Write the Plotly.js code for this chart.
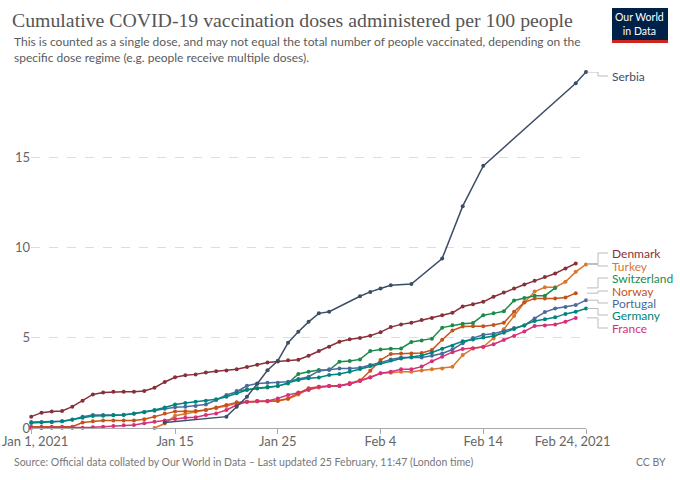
<!DOCTYPE html>
<html>
<head>
<meta charset="utf-8">
<script src="https://cdn.plot.ly/plotly-2.35.2.min.js"></script>
<style>html,body{margin:0;padding:0;background:#fff;}#chart{width:680px;height:480px;}</style>
</head>
<body>
<div id="chart"></div>
<script>
// ---- Data ----
const dates = ['2021-01-01','2021-01-02','2021-01-03','2021-01-04','2021-01-05','2021-01-06','2021-01-07','2021-01-08','2021-01-09','2021-01-10',
'2021-01-11','2021-01-12','2021-01-13','2021-01-14','2021-01-15','2021-01-16','2021-01-17','2021-01-18','2021-01-19','2021-01-20',
'2021-01-21','2021-01-22','2021-01-23','2021-01-24','2021-01-25','2021-01-26','2021-01-27','2021-01-28','2021-01-29','2021-01-30',
'2021-01-31','2021-02-01','2021-02-02','2021-02-03','2021-02-04','2021-02-05','2021-02-06','2021-02-07','2021-02-08','2021-02-09',
'2021-02-10','2021-02-11','2021-02-12','2021-02-13','2021-02-14','2021-02-15','2021-02-16','2021-02-17','2021-02-18','2021-02-19',
'2021-02-20','2021-02-21','2021-02-22','2021-02-23','2021-02-24'];

const serbia = [null,null,null,null,null,null,null,null,null,null,
null,null,null,0.30,null,null,null,null,null,0.63,
1.18,1.73,2.45,3.20,3.72,4.72,5.33,5.88,6.35,6.44,
null,null,7.30,7.54,7.73,7.91,null,7.97,null,null,
9.39,null,12.29,null,14.52,null,null,null,null,null,
null,null,null,19.10,19.72];

const denmark = [0.63,0.85,0.92,0.94,1.18,1.51,1.86,1.97,2.01,2.01,
2.01,2.05,2.23,2.55,2.81,2.92,2.97,3.08,3.14,3.19,
3.26,3.38,3.50,3.63,3.69,3.75,3.78,4.00,4.26,4.50,
4.78,4.91,4.98,5.11,5.31,5.59,5.74,5.83,5.98,6.09,
6.24,6.38,6.73,6.86,6.99,7.27,7.51,7.73,7.95,8.15,
8.37,8.56,8.84,9.11,null];

const turkey = [null,null,null,null,null,null,null,null,null,null,
null,null,0.00,0.25,0.68,0.78,0.90,1.00,1.09,1.22,
1.37,1.44,1.47,1.47,1.49,1.60,1.85,2.15,2.25,2.32,
2.32,2.50,2.64,2.81,3.03,3.06,3.12,3.12,3.18,3.25,
3.30,3.39,4.04,4.41,4.50,4.96,5.47,6.20,6.95,7.56,
7.79,7.79,8.10,8.65,9.06];

const switzerland = [null,null,null,null,null,null,null,null,null,null,
null,null,null,null,null,null,null,null,null,null,
2.05,2.14,2.19,2.25,2.32,2.47,2.99,3.12,3.21,3.21,
3.67,3.71,3.80,4.26,4.35,4.39,4.41,4.76,4.85,4.95,
5.56,5.69,5.78,5.82,6.25,6.35,6.47,7.06,7.20,7.33,
7.33,7.76,null,null,null];

const norway = [0.07,0.07,0.07,0.07,0.07,0.30,0.37,0.42,0.42,0.42,
0.42,0.48,0.63,0.81,0.92,0.93,0.94,1.00,1.13,1.27,
1.42,1.46,1.49,1.49,1.51,1.64,1.92,2.20,2.29,2.32,
2.32,2.43,2.62,3.17,3.76,4.10,4.13,4.13,4.15,4.32,
4.89,5.40,5.62,5.64,5.64,5.70,5.83,6.44,6.96,7.18,
7.18,7.18,7.23,7.47,null];

const portugal = [0.33,0.33,0.33,0.37,0.46,0.62,0.72,0.72,0.72,0.74,
0.79,0.87,0.96,1.07,1.15,1.18,1.22,1.30,1.55,1.83,
2.01,2.34,2.47,2.51,2.51,2.56,2.71,2.84,3.16,3.25,
3.30,3.30,3.34,3.49,3.62,3.80,3.91,3.91,3.91,4.00,
4.13,4.35,4.70,4.98,5.17,5.22,5.36,5.54,5.68,6.07,
6.42,6.62,6.70,6.81,7.08];

const germany = [0.28,0.31,0.33,0.38,0.47,0.57,0.66,0.68,0.70,0.72,
0.81,0.89,1.00,1.14,1.30,1.38,1.46,1.51,1.59,1.73,
1.92,2.10,2.20,2.27,2.32,2.50,2.66,2.75,2.80,2.93,
2.99,3.12,3.27,3.43,3.58,3.74,3.85,3.93,4.02,4.18,
4.39,4.56,4.80,4.90,5.02,5.10,5.27,5.49,5.68,5.93,
6.02,6.13,6.32,6.44,6.62];

const france = [0.00,0.00,0.01,0.01,0.02,0.02,0.04,0.07,0.11,0.15,
0.17,0.26,0.35,0.41,0.50,0.57,0.60,0.72,0.81,1.00,
1.27,1.46,1.49,1.49,1.64,1.83,1.96,2.10,2.29,2.32,
2.35,2.45,2.60,2.80,3.03,3.12,3.25,3.25,3.40,3.70,
3.95,4.20,4.38,4.42,4.48,4.64,4.87,5.10,5.35,5.65,
5.68,5.73,5.89,6.10,null];

const tickDates = ['2021-01-01','2021-01-15','2021-01-25','2021-02-04','2021-02-14','2021-02-24'];
const tickLabels = ['Jan 1, 2021','Jan 15','Jan 25','Feb 4','Feb 14','Feb 24, 2021'];
const yTicks = [0,5,10,15];

// ---- Styling ----
const series = [
  {name:'Denmark', y:denmark, color:'#883039', labelPx:253},
  {name:'Turkey', y:turkey, color:'#d9772d', labelPx:266},
  {name:'Switzerland', y:switzerland, color:'#1b8a4c', labelPx:278},
  {name:'Norway', y:norway, color:'#c4531b', labelPx:291},
  {name:'Portugal', y:portugal, color:'#4c6a9c', labelPx:303},
  {name:'Germany', y:germany, color:'#00847e', labelPx:315},
  {name:'France', y:france, color:'#d6307a', labelPx:328},
  {name:'Serbia', y:serbia, color:'#3c4e66', labelPx:76}
];

const W = 680, H = 480;
const M = {l:31, r:94, t:72, b:52};
const yMax = 19.72;
const plotW = W - M.l - M.r, plotH = H - M.t - M.b;
const px = x => (x - M.l) / plotW;          // pixel x -> paper x
const py = y => 1 - (y - M.t) / plotH;      // pixel y -> paper y
const pyData = y => (H - M.b - y) / plotH * yMax; // pixel y -> data y

// first tick label is drawn as a left-aligned annotation (so it is not cut at the edge);
// last one is nudged inward like in the original
const NB = '\u00a0';
const lastIdx = tickLabels.length - 1;
const tickText = tickLabels.map((t, i) => i === 0 ? '' : (i === lastIdx ? t + NB.repeat(8) : t));

const traces = series.map(s => ({
  type:'scatter', mode:'lines+markers', x:dates, y:s.y, name:s.name,
  connectgaps:true, cliponaxis:false, hoverinfo:'skip',
  line:{color:s.color, width:1.5},
  marker:{color:s.color, size:4}
}));

const shapes = [];
const annotations = [];
series.forEach(s => {
  let last = null;
  for (let i = s.y.length - 1; i >= 0; i--) { if (s.y[i] !== null) { last = s.y[i]; break; } }
  const ly = pyData(s.labelPx);
  shapes.push({type:'path', xref:'paper', yref:'y',
    path:`M ${px(587)},${last} L ${px(598)},${last} L ${px(598)},${ly} L ${px(608)},${ly}`,
    line:{color:'#bbbbbb', width:1}});
  annotations.push({xref:'paper', yref:'y', x:px(611), y:ly, xanchor:'left', yanchor:'middle',
    text:s.name, showarrow:false, borderpad:0, font:{family:'Lato', size:12, color:s.color}});
});

// first x tick label
annotations.push({xref:'paper', yref:'paper', x:px(1), y:py(441), xanchor:'left', yanchor:'middle',
  text:tickLabels[0], showarrow:false, borderpad:0, font:{family:'Lato', size:13, color:'#666'}});

// subtitle
annotations.push({xref:'paper', yref:'paper', x:px(12), y:py(32), xanchor:'left', yanchor:'top', align:'left',
  text:'This is counted as a single dose, and may not equal the total number of people vaccinated, depending on the<br>specific dose regime (e.g. people receive multiple doses).',
  showarrow:false, font:{family:'Lato', size:12, color:'#5b5b5b'}});
// source
annotations.push({xref:'paper', yref:'paper', x:px(12), y:py(462), xanchor:'left', yanchor:'middle',
  text:'Source: Official data collated by Our World in Data – Last updated 25 February, 11:47 (London time)',
  showarrow:false, font:{family:'Lato', size:10.5, color:'#777'}});
annotations.push({xref:'paper', yref:'paper', x:px(668), y:py(462), xanchor:'right', yanchor:'middle',
  text:'CC BY', showarrow:false, font:{family:'Lato', size:10.5, color:'#777'}});
// logo
shapes.push({type:'rect', xref:'paper', yref:'paper', x0:px(612), x1:px(668), y0:py(43), y1:py(8),
  fillcolor:'#002147', line:{width:0}});
shapes.push({type:'rect', xref:'paper', yref:'paper', x0:px(612), x1:px(668), y0:py(43), y1:py(40),
  fillcolor:'#ce261e', line:{width:0}});
annotations.push({xref:'paper', yref:'paper', x:px(640), y:py(24), xanchor:'center', yanchor:'middle',
  text:'Our World<br>in Data', showarrow:false, font:{family:'Lato', size:10.5, color:'#ffffff'}});

const layout = {
  width:W, height:H, margin:M,
  paper_bgcolor:'#fff', plot_bgcolor:'#fff', showlegend:false,
  title:{text:'Cumulative COVID-19 vaccination doses administered per 100 people',
    xref:'container', yref:'container', x:12/W, xanchor:'left', y:1-20/H, yanchor:'middle',
    font:{family:'Liberation Serif', size:19.8, color:'#555'}},
  xaxis:{type:'date', range:['2020-12-31 23:30','2021-02-24'], tickvals:tickDates, ticktext:tickText,
    ticklabeloverflow:'allow', ticklabelstandoff:-4,
    showgrid:false, zeroline:false, showline:true, linecolor:'#aaa', linewidth:1,
    ticks:'outside', ticklen:5, tickcolor:'#aaa',
    tickfont:{family:'Lato', size:13, color:'#666'}},
  yaxis:{range:[0,yMax], tickvals:yTicks, ticktext:yTicks.map(String),
    showgrid:true, gridcolor:'#ddd', griddash:'dash', gridwidth:1, zeroline:false, showline:false,
    ticks:'', tickfont:{family:'Lato', size:13, color:'#666'}},
  shapes:shapes, annotations:annotations, hovermode:false
};

Plotly.newPlot('chart', traces, layout, {staticPlot:true, displayModeBar:false});
</script>
</body>
</html>
